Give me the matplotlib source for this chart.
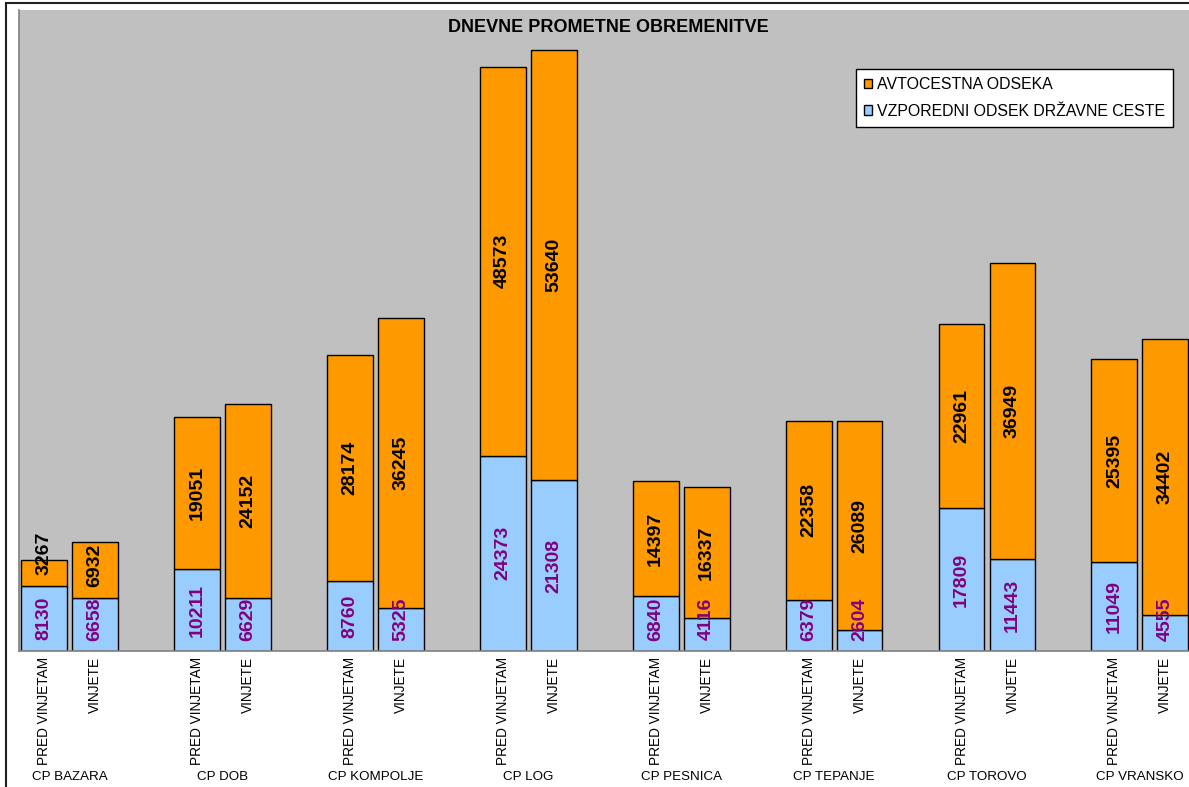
import matplotlib.pyplot as plt
from matplotlib.patches import Patch, Rectangle
from matplotlib.transforms import blended_transform_factory
import numpy as np

plt.rcParams['font.family'] = ['Liberation Sans', 'DejaVu Sans']

stations = ["CP BAZARA", "CP DOB", "CP KOMPOLJE", "CP LOG",
            "CP PESNICA", "CP TEPANJE", "CP TOROVO", "CP VRANSKO"]
periods = ["PRED VINJETAM", "VINJETE"]

# parallel state road, before / after vignettes
road_before = [8130, 10211, 8760, 24373, 6840, 6379, 17809, 11049]
road_after = [6658, 6629, 5325, 21308, 4116, 2604, 11443, 4555]
# motorway sections, before / after vignettes
motorway_before = [3267, 19051, 28174, 48573, 14397, 22358, 22961, 25395]
motorway_after = [6932, 24152, 36245, 53640, 16337, 26089, 36949, 34402]

ORANGE = "#FF9900"
BLUE = "#99CCFF"
GREY = "#C0C0C0"
PURPLE = "#800080"

W, H = 1189, 787
fig = plt.figure(figsize=(W / 100, H / 100), dpi=100)
fig.patch.set_facecolor("white")

ax = fig.add_axes([19 / W, (H - 651) / H, (1197 - 19) / W, 641 / H])
ax.set_facecolor(GREY)

x_pre = np.arange(len(stations)) * 3
x_post = x_pre + 1
width = 0.9

def label_pos(bottom, value):
    # keep label clear of the segment's lower edge
    return max(bottom + value / 2, bottom + 4000)

for xs, road, mway in [(x_pre, road_before, motorway_before),
                       (x_post, road_after, motorway_after)]:
    ax.bar(xs, road, width, color=BLUE, edgecolor="black", linewidth=1)
    ax.bar(xs, mway, width, bottom=road, color=ORANGE, edgecolor="black", linewidth=1)
    for x, r, m in zip(xs, road, mway):
        ax.text(x, label_pos(0, r), str(r), rotation=90, ha="center", va="center",
                color=PURPLE, fontsize=14, fontweight="bold")
        ax.text(x, label_pos(r, m), str(m), rotation=90, ha="center", va="center",
                color="black", fontsize=14, fontweight="bold")

ax.set_ylim(0, 80000)
ax.set_xlim(-0.49, 22.62)
ax.set_yticks([])

ticks = np.ravel(np.column_stack([x_pre, x_post]))
ax.set_xticks(ticks)
ax.set_xticklabels(periods * len(stations), rotation=90, fontsize=9.8)
ax.tick_params(axis="x", length=0, pad=4)

for side in ["top", "right"]:
    ax.spines[side].set_visible(False)
for side in ["left", "bottom"]:
    ax.spines[side].set_color("#808080")
    ax.spines[side].set_linewidth(1.2)

trans = blended_transform_factory(ax.transData, fig.transFigure)
for x, name in zip(x_pre + 0.5, stations):
    ax.text(x, 1 - 777 / H, name, transform=trans, ha="center", va="center", fontsize=9.6)

fig.text(608 / W, 1 - 27 / H, "DNEVNE PROMETNE OBREMENITVE", ha="center", va="center",
         fontsize=13, fontweight="bold")

handles = [Patch(facecolor=ORANGE, edgecolor="black", label="AVTOCESTNA ODSEKA"),
           Patch(facecolor=BLUE, edgecolor="black", label="VZPOREDNI ODSEK DRŽAVNE CESTE")]
leg = ax.legend(handles=handles, loc="upper right", bbox_to_anchor=(1173 / W, 1 - 69 / H),
                bbox_transform=fig.transFigure, fontsize=11.4, frameon=True, fancybox=False,
                edgecolor="black", framealpha=1, handlelength=0.55, handleheight=0.55,
                handletextpad=0.3, labelspacing=0.75, borderpad=0.5, borderaxespad=0)
leg.get_frame().set_linewidth(1)

# chart-area frame on the left and top
fig.patches.append(Rectangle((6 / W, -0.1), 1.2, 1 - 2.5 / H + 0.1, transform=fig.transFigure,
                             fill=False, edgecolor="#202020", linewidth=1.5))

fig.savefig("out.png", dpi=100)
